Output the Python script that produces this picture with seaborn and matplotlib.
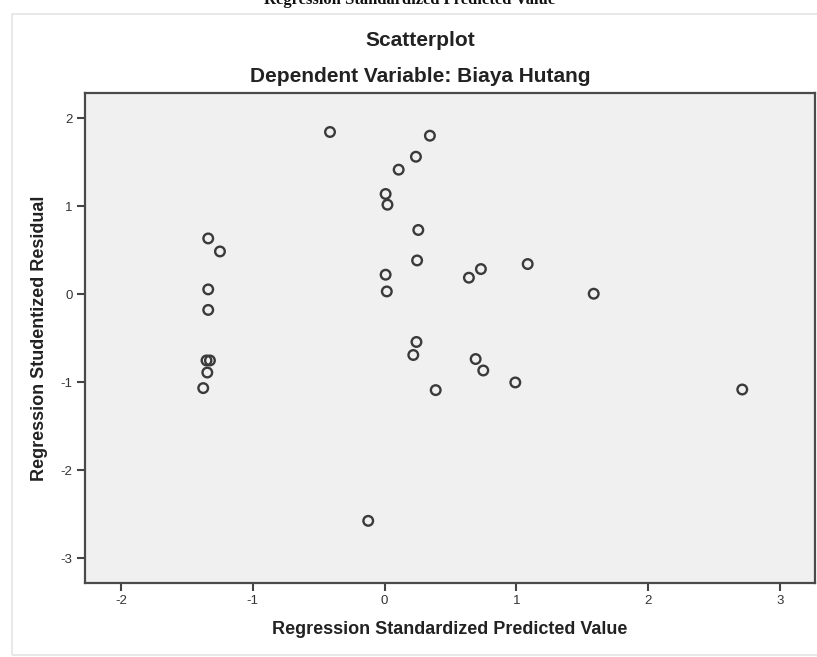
import matplotlib
matplotlib.use("Agg")
import matplotlib.pyplot as plt
import seaborn as sns
import pandas as pd
from matplotlib.patches import Rectangle

# values
predicted = [-0.414, 0.344, 0.238, 0.107, 0.008, 0.022, 0.256, -1.338, -1.249, 0.247,
             0.731, 1.086, 0.008, 0.640, -1.338, 0.017, 1.587, -1.338, 0.242, 0.218,
             0.691, -1.351, -1.325, 0.749, -1.345, 0.992, -1.376, 0.388, 2.714, -0.124]
residual = [1.843, 1.801, 1.562, 1.415, 1.139, 1.017, 0.730, 0.634, 0.486, 0.384,
            0.286, 0.343, 0.222, 0.188, 0.055, 0.032, 0.006, -0.178, -0.542, -0.690,
            -0.736, -0.752, -0.752, -0.866, -0.889, -1.002, -1.066, -1.089, -1.082, -2.574]
xticks = [-2, -1, 0, 1, 2, 3]
yticks = [-3, -2, -1, 0, 1, 2]

df = pd.DataFrame({"pred": predicted, "resid": residual})

sns.set_style("white")
plt.rcParams["font.family"] = ["Liberation Sans", "DejaVu Sans"]

fig = plt.figure(figsize=(8.17, 6.57), dpi=100)
ax = fig.add_axes([85 / 817, 1 - 583 / 657, 730 / 817, 490 / 657])
ax.set_facecolor("#f0f0f0")

sns.scatterplot(data=df, x="pred", y="resid", ax=ax, marker="o", s=48,
                facecolor="none", edgecolor="#3a3a3a", linewidth=1.7)

ax.set_xlim(-2.273, 3.266)
ax.set_ylim(-3.28, 2.286)
ax.set_xticks(xticks)
ax.set_yticks(yticks)
ax.set_xticklabels([str(t) for t in xticks], fontsize=9.5, color="#333333")
ax.set_yticklabels([str(t) for t in yticks], fontsize=9.5, color="#333333")
ax.tick_params(direction="out", length=6, width=1.5, color="#444444", pad=3,
               bottom=True, left=True)
for sp in ax.spines.values():
    sp.set_color("#4a4a4a")
    sp.set_linewidth(1.6)

ax.set_xlabel("Regression Standardized Predicted Value", fontsize=13,
              fontweight="bold", color="#222222", labelpad=10)
ax.set_ylabel("Regression Studentized Residual", fontsize=13,
              fontweight="bold", color="#222222", labelpad=9)

fig.text(420 / 817, 1 - 41 / 657, "Scatterplot", ha="center", va="center",
         fontsize=15, fontweight="bold", color="#222222")
fig.text(420 / 817, 1 - 77 / 657, "Dependent Variable: Biaya Hutang", ha="center",
         va="center", fontsize=15, fontweight="bold", color="#222222")

# cropped heading from the page above the chart
fig.text(410 / 817, 1 - 3.5 / 657, "Regression Standardized Predicted Value",
         ha="center", va="baseline", fontsize=12, fontweight="bold",
         family=["Liberation Serif", "DejaVu Serif"], color="#111111")

fig.patches.append(Rectangle((12 / 817, 2 / 657), 1.0, 641 / 657,
                             transform=fig.transFigure, fill=False,
                             edgecolor="#e4e4e4", linewidth=1.2))

fig.savefig("out.png", dpi=100)
